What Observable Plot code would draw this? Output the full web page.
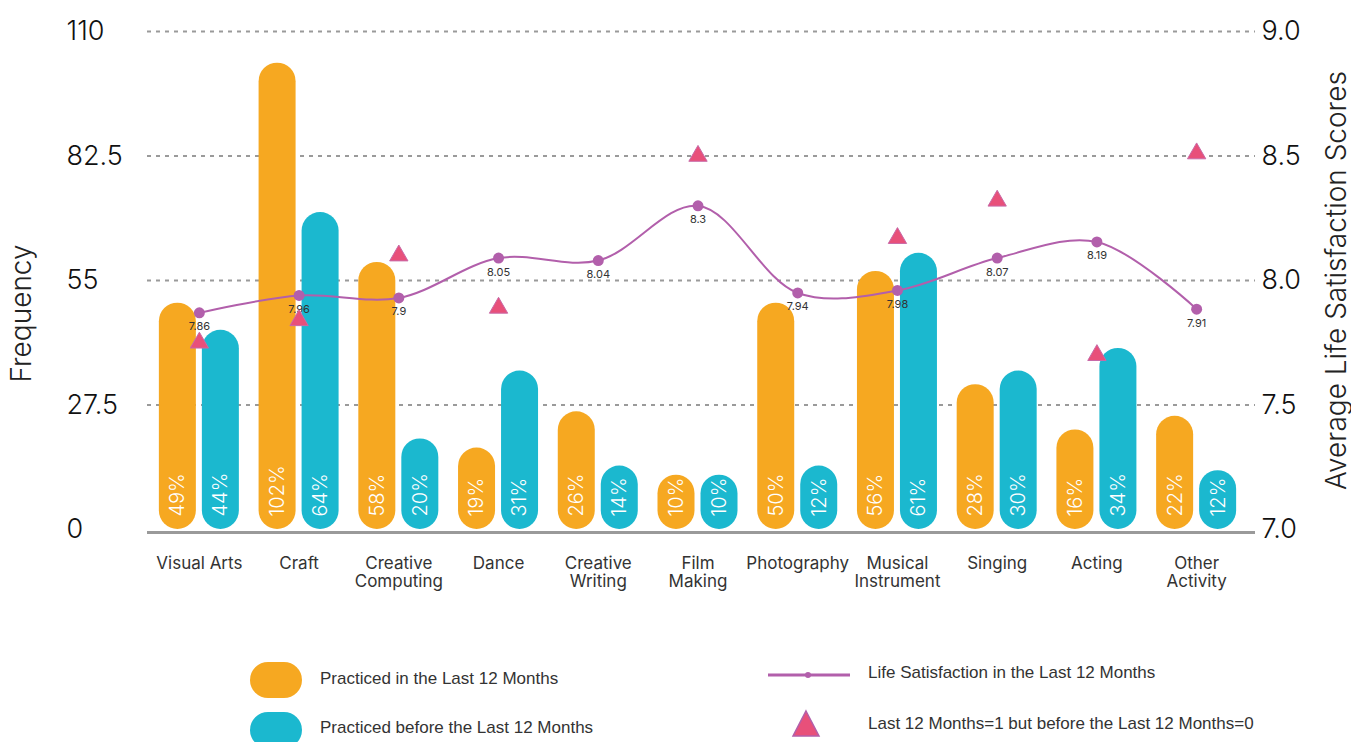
<!DOCTYPE html>
<html>
<head>
<meta charset="utf-8">
<script src="https://cdn.jsdelivr.net/npm/d3@7"></script>
<script src="https://cdn.jsdelivr.net/npm/@observablehq/plot@0.6"></script>
<style>
  html, body { margin: 0; padding: 0; background: #fff; }
  #wrap { width: 1351px; position: relative; }
  #legend { position: relative; width: 1351px; height: 102px; font-family: "Liberation Sans Narrow", "Liberation Sans", sans-serif; font-size: 17px; color: #333; overflow: hidden; }
  .pill { position: absolute; width: 52px; height: 36px; border-radius: 18px; }
  .ltxt { position: absolute; white-space: nowrap; line-height: 20px; }
</style>
</head>
<body>
<div id="wrap">
  <div id="chart"></div>
  <div id="legend"></div>
</div>
<script>
// ---- data ----
const categories = ["Visual Arts","Craft","Creative Computing","Dance","Creative Writing","Film Making","Photography","Musical Instrument","Singing","Acting","Other Activity"];
const xLabels = ["Visual Arts","Craft","Creative\nComputing","Dance","Creative\nWriting","Film\nMaking","Photography","Musical\nInstrument","Singing","Acting","Other\nActivity"];
const last12 = [50, 103, 59, 18, 26, 12, 50, 57, 32, 22, 25];
const before12 = [44, 70, 20, 35, 14, 12, 14, 61, 35, 40, 13];
const last12Pct = ["49%","102%","58%","19%","26%","10%","50%","56%","28%","16%","22%"];
const before12Pct = ["44%","64%","20%","31%","14%","10%","12%","61%","30%","34%","12%"];
// plotted life-satisfaction positions and their printed labels
const lifeSat = [7.87, 7.94, 7.93, 8.09, 8.08, 8.30, 7.95, 7.96, 8.09, 8.155, 7.885];
const lifeSatLabels = ["7.86","7.96","7.9","8.05","8.04","8.3","7.94","7.98","8.07","8.19","7.91"];
const triangleScore = [7.75, 7.84, 8.10, 7.89, null, 8.50, null, 8.17, 8.32, 7.70, 8.51];
const leftTicks = [0, 27.5, 55, 82.5, 110];
const rightTicks = [7.0, 7.5, 8.0, 8.5, 9.0];
const leftDomain = [0, 110];
const rightDomain = [7, 9];

// ---- derived table ----
const toLeft = v => (v == null) ? NaN :
  leftDomain[0] + (v - rightDomain[0]) / (rightDomain[1] - rightDomain[0]) * (leftDomain[1] - leftDomain[0]);
const rows = categories.map((c, i) => ({
  cat: c, label: xLabels[i],
  last: last12[i], before: before12[i],
  lastPct: last12Pct[i], beforePct: before12Pct[i],
  ls: lifeSat[i], lsLabel: lifeSatLabels[i], tri: triangleScore[i]
}));

const ORANGE = "#f6a821", TEAL = "#1bb8cf", PURPLE = "#b25fab", PINK = "#e8507a";
const W = 1351, H = 640;
const barW = 37, half = 21.5;
const step = (1246 - 149) / categories.length;
const inset = (step - barW) / 2;
const font = "Inter, 'Open Sans', sans-serif";

const chart = Plot.plot({
  width: W, height: H,
  marginLeft: 147, marginRight: 96, marginTop: 31, marginBottom: H - 529,
  style: { fontFamily: font, background: "#fff", overflow: "visible" },
  x: { type: "band", domain: categories, range: [149, 1246], padding: 0, round: false, axis: null },
  y: { domain: leftDomain, axis: null },
  marks: [
    Plot.ruleY(leftTicks.filter(d => d > 0), { stroke: "#9a9a9a", strokeWidth: 2, strokeDasharray: "4,5" }),
    Plot.ruleY([0], { stroke: "#9a9a9a", strokeWidth: 3, dy: 3 }),
    Plot.barY(rows, { x: "cat", y: "last", fill: ORANGE, rx: barW / 2, dx: -half, insetLeft: inset, insetRight: inset }),
    Plot.barY(rows, { x: "cat", y: "before", fill: TEAL, rx: barW / 2, dx: half, insetLeft: inset, insetRight: inset }),
    Plot.text(rows, { x: "cat", y: 0, text: "lastPct", rotate: -90, textAnchor: "start", dx: -half, dy: -13, fill: "white", fontSize: 20, fontWeight: 300 }),
    Plot.text(rows, { x: "cat", y: 0, text: "beforePct", rotate: -90, textAnchor: "start", dx: half, dy: -13, fill: "white", fontSize: 20, fontWeight: 300 }),
    Plot.line(rows, { x: "cat", y: d => toLeft(d.ls), stroke: PURPLE, strokeWidth: 2, curve: "catmull-rom" }),
    Plot.dot(rows, { x: "cat", y: d => toLeft(d.ls), r: 5.5, fill: PURPLE }),
    Plot.text(rows, { x: "cat", y: d => toLeft(d.ls), text: "lsLabel", dy: 14, fontSize: 11, fill: "#333" }),
    Plot.dot(rows, { x: "cat", y: d => toLeft(d.tri), symbol: "triangle", r: 6.8, fill: PINK, stroke: "#c86aa8", strokeWidth: 1 }),
    // left tick labels
    Plot.text(leftTicks, { y: d => d, text: d => String(d), frameAnchor: "left", textAnchor: "start", dx: -81, fontSize: 27, fontWeight: 300, fill: "#111" }),
    // right tick labels
    Plot.text(rightTicks, { y: d => toLeft(d), text: d => d.toFixed(1), frameAnchor: "right", textAnchor: "start", dx: 6, fontSize: 27, fontWeight: 300, fill: "#111" }),
    // x labels
    Plot.text(rows, { x: "cat", y: 0, text: "label", lineAnchor: "top", dy: 26, fontSize: 17, lineHeight: 1.08, fill: "#333" }),
    // axis titles
    Plot.text(["Frequency"], { frameAnchor: "left", textAnchor: "middle", text: d => d, rotate: -90, dx: -125, dy: 33, fontSize: 28, fontWeight: 300, fill: "#222" }),
    Plot.text(["Average Life Satisfaction Scores"], { frameAnchor: "right", textAnchor: "middle", text: d => d, rotate: -90, dx: 82, dy: 0, fontSize: 28, fontWeight: 300, fill: "#222" })
  ]
});
document.getElementById("chart").appendChild(chart);

// ---- legend ----
const legend = document.getElementById("legend");
const top0 = H;
function add(html) { legend.insertAdjacentHTML("beforeend", html); }
add(`<div class="pill" style="left:250px;top:${662 - top0}px;background:${ORANGE}"></div>`);
add(`<div class="ltxt" style="left:320px;top:${669 - top0}px">Practiced in the Last 12 Months</div>`);
add(`<div class="pill" style="left:250px;top:${712 - top0}px;background:${TEAL}"></div>`);
add(`<div class="ltxt" style="left:320px;top:${718 - top0}px">Practiced before the Last 12 Months</div>`);
add(`<svg style="position:absolute;left:760px;top:${660 - top0}px" width="100" height="30"><line x1="8" x2="90" y1="15" y2="15" stroke="${PURPLE}" stroke-width="3"/><circle cx="48" cy="15" r="3" fill="${PURPLE}"/></svg>`);
add(`<div class="ltxt" style="left:868px;top:${663 - top0}px">Life Satisfaction in the Last 12 Months</div>`);
add(`<svg style="position:absolute;left:790px;top:${708 - top0}px" width="32" height="32"><polygon points="16,3 29,28 3,28" fill="${PINK}" stroke="${PURPLE}" stroke-width="1.5"/></svg>`);
add(`<div class="ltxt" style="left:868px;top:${714 - top0}px">Last 12 Months=1 but before the Last 12 Months=0</div>`);
</script>
</body>
</html>
